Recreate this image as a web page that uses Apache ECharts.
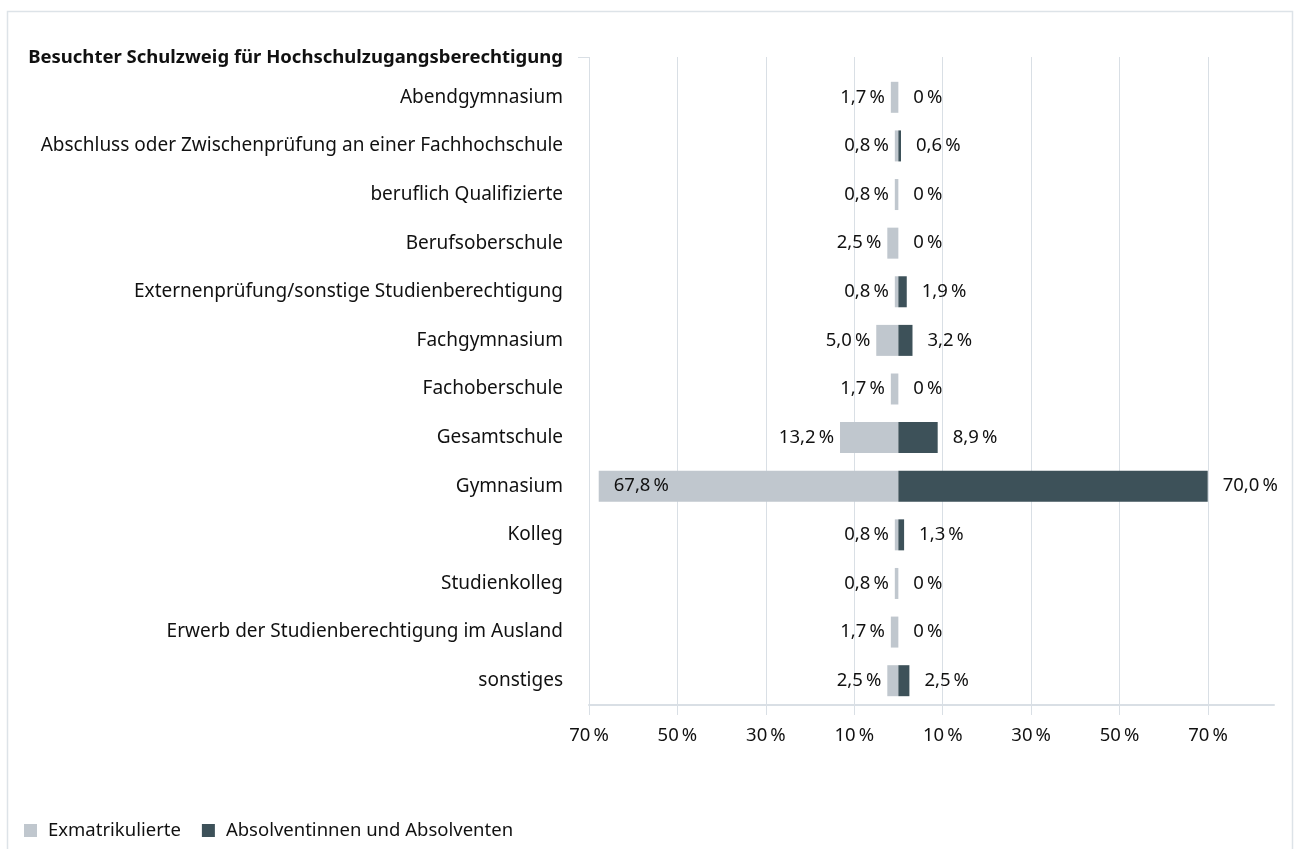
<!DOCTYPE html>
<html>
<head>
<meta charset="utf-8">
<script src="https://cdn.jsdelivr.net/npm/echarts@6/dist/echarts.min.js"></script>
<style>
  html, body { margin: 0; padding: 0; background: #fff; }
  #chart { width: 1298px; height: 849px; }
</style>
</head>
<body>
<div id="chart"></div>
<script>
// categories, top to bottom
const categories = [
  "Abendgymnasium",
  "Abschluss oder Zwischenprüfung an einer Fachhochschule",
  "beruflich Qualifizierte",
  "Berufsoberschule",
  "Externenprüfung/sonstige Studienberechtigung",
  "Fachgymnasium",
  "Fachoberschule",
  "Gesamtschule",
  "Gymnasium",
  "Kolleg",
  "Studienkolleg",
  "Erwerb der Studienberechtigung im Ausland",
  "sonstiges"
];
// Exmatrikulierte (left side)
const exmatrikulierte = [1.7, 0.8, 0.8, 2.5, 0.8, 5.0, 1.7, 13.2, 67.8, 0.8, 0.8, 1.7, 2.5];
// Absolventinnen und Absolventen (right side)
const absolventen = [0, 0.6, 0, 0, 1.9, 3.2, 0, 8.9, 70.0, 1.3, 0, 0, 2.5];

const seriesNames = ["Exmatrikulierte", "Absolventinnen und Absolventen"];
const headerText = "Besuchter Schulzweig für Hochschulzugangsberechtigung";

const LIGHT = "#c0c7ce";
const DARK = "#3d5159";
const GRIDC = "#d9dfe5";
const FONT = "Noto Sans";

// bar values: one decimal, comma, "0 %" for zero
function fmt(v) {
  v = Math.abs(v);
  if (v === 0) return "0\u202f%";
  return v.toFixed(1).replace(".", ",") + "\u202f%";
}
// tick labels: whole numbers, both sides positive
function fmtTick(v) {
  return Math.abs(v) + "\u202f%";
}

const chart = echarts.init(document.getElementById("chart"));
const option = {
  animation: false,
  textStyle: { fontFamily: FONT },
  title: {
    text: headerText,
    right: 735,
    top: 48,
    padding: 0,
    textStyle: { fontFamily: FONT, fontSize: 18.5, fontWeight: "bold", color: "#111" }
  },
  legend: {
    left: 19,
    top: 816,
    itemWidth: 13,
    itemHeight: 13,
    itemGap: 21,
    icon: "rect",
    data: seriesNames,
    textStyle: { fontFamily: FONT, fontSize: 18.5, color: "#111", padding: [0, 0, 0, 6] }
  },
  grid: [
    // background grid: gridlines and tick labels
    { left: 589, right: 90, top: 57, bottom: 144 },
    // bars
    { left: 589, right: 24, top: 73, bottom: 144 }
  ],
  xAxis: [
    {
      gridIndex: 0,
      type: "value",
      min: -70,
      max: 70,
      interval: 20,
      axisLine: { show: false },
      axisTick: { show: true, length: 10, lineStyle: { color: GRIDC } },
      splitLine: { show: true, lineStyle: { color: GRIDC, width: 1 } },
      axisLabel: {
        margin: 21,
        fontFamily: FONT,
        fontSize: 18.5,
        color: "#111",
        formatter: fmtTick
      }
    },
    {
      gridIndex: 1,
      type: "value",
      min: -70,
      max: 85,
      axisLine: { show: true, onZero: false, lineStyle: { color: GRIDC, width: 2 } },
      axisTick: { show: false },
      axisLabel: { show: false },
      splitLine: { show: false }
    }
  ],
  yAxis: [
    {
      gridIndex: 0,
      type: "value",
      min: 0,
      max: 1,
      axisLine: { show: false },
      axisTick: { show: false },
      axisLabel: { show: false },
      splitLine: { show: false }
    },
    {
      gridIndex: 1,
      type: "category",
      inverse: true,
      data: categories,
      axisLine: { show: false },
      axisTick: { show: false },
      axisLabel: { margin: 26, fontFamily: FONT, fontSize: 19, color: "#111" }
    }
  ],
  graphic: [
    {
      type: "rect",
      silent: true,
      shape: { x: 7.5, y: 11.5, width: 1285, height: 860 },
      style: { fill: "none", stroke: "#dde3e8", lineWidth: 1.5 }
    },
    {
      type: "line",
      silent: true,
      shape: { x1: 578, y1: 57.5, x2: 589, y2: 57.5 },
      style: { stroke: GRIDC, lineWidth: 1 }
    }
  ],
  series: [
    {
      name: seriesNames[0],
      type: "bar",
      xAxisIndex: 1,
      yAxisIndex: 1,
      barWidth: 31,
      barGap: "-100%",
      itemStyle: { color: LIGHT },
      // the large Gymnasium bar carries its label inside, at the left end
      data: exmatrikulierte.map((v) =>
        v > 50 ? { value: -v, label: { position: "insideLeft", distance: 15 } } : -v
      ),
      label: {
        show: true,
        position: "left",
        distance: 6,
        fontFamily: FONT,
        fontSize: 18.5,
        color: "#111",
        formatter: (p) => fmt(p.value)
      }
    },
    {
      name: seriesNames[1],
      type: "bar",
      xAxisIndex: 1,
      yAxisIndex: 1,
      barWidth: 31,
      itemStyle: { color: DARK },
      data: absolventen,
      label: {
        show: true,
        position: "right",
        distance: 15,
        fontFamily: FONT,
        fontSize: 18.5,
        color: "#111",
        formatter: (p) => fmt(p.value)
      }
    }
  ]
};
chart.setOption(option);
</script>
</body>
</html>
